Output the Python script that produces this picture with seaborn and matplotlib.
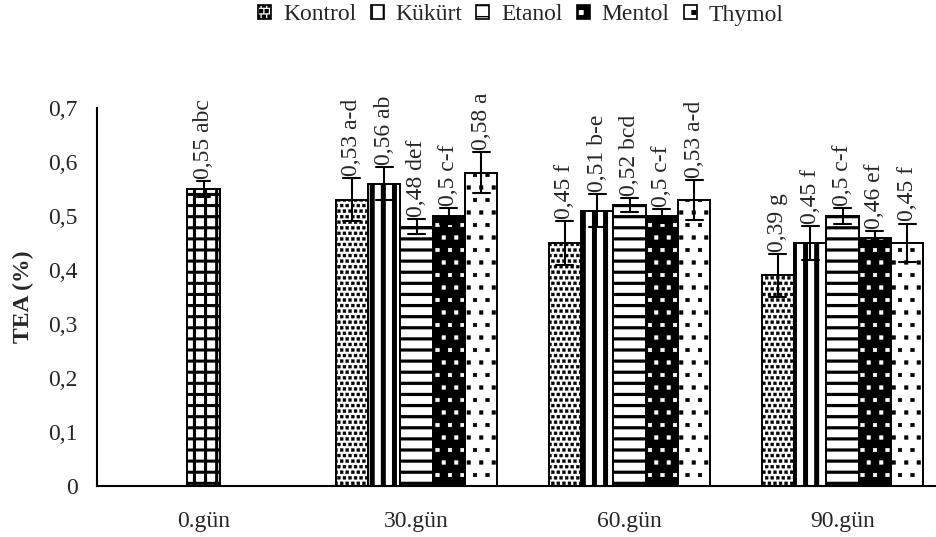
import numpy as np
import pandas as pd
import matplotlib
matplotlib.use("Agg")
import matplotlib.pyplot as plt
import matplotlib.hatch as mhatch
import matplotlib.patches as mpatches
from matplotlib.path import Path
import seaborn as sns

# ---------------- data ----------------
days = ["0.gün", "30.gün", "60.gün", "90.gün"]
treatments = ["Kontrol", "Kükürt", "Etanol", "Mentol", "Thymol"]

day0_value = [0.55]
day0_err = [0.015]
day0_label = ["0,55 abc"]

values_30 = [0.53, 0.56, 0.48, 0.50, 0.58]
err_30 = [0.040, 0.030, 0.014, 0.015, 0.038]
labels_30 = ["0,53 a-d", "0,56 ab", "0,48 def", "0,5 c-f", "0,58 a"]

values_60 = [0.45, 0.51, 0.52, 0.50, 0.53]
err_60 = [0.041, 0.030, 0.013, 0.013, 0.037]
labels_60 = ["0,45 f", "0,51 b-e", "0,52 bcd", "0,5 c-f", "0,53 a-d"]

values_90 = [0.39, 0.45, 0.50, 0.46, 0.45]
err_90 = [0.040, 0.031, 0.015, 0.012, 0.036]
labels_90 = ["0,39 g", "0,45 f", "0,5 c-f", "0,46 ef", "0,45 f"]

y_ticks = [0, 0.1, 0.2, 0.3, 0.4, 0.5, 0.6, 0.7]
y_tick_labels = ["0", "0,1", "0,2", "0,3", "0,4", "0,5", "0,6", "0,7"]
y_label = "TEA (%)"

# ---------------- custom hatch (square dots, denser pattern) ----------------
class SquareDots(mhatch.Shapes):
    filled = True

    def __init__(self, hatch, density):
        n = hatch.count('.')
        self.num_rows = 0 if n == 0 else (8 if n == 1 else 18)
        self.size = 0.14 if n <= 1 else 0.26
        self.shape_vertices = np.array([[-1, -1], [1, -1], [1, 1], [-1, 1], [-1, -1]], float)
        self.shape_codes = np.array([Path.MOVETO, Path.LINETO, Path.LINETO,
                                     Path.LINETO, Path.CLOSEPOLY], dtype=Path.code_type)
        super().__init__(hatch, density)


mhatch._hatch_types = [SquareDots if t is mhatch.SmallFilledCircles else t
                       for t in mhatch._hatch_types]
_orig_get_path = mhatch.get_path


def _get_path(hatchpattern, density=6):
    return _orig_get_path(hatchpattern, 9)


mhatch.get_path = _get_path

# ---------------- style ----------------
sns.set_style("white")
plt.rcParams['font.family'] = ['Liberation Serif', 'DejaVu Serif']
plt.rcParams['font.size'] = 17
FS = 17

df0 = pd.DataFrame({
    "gun": [days[0]] * 2,
    "val": [day0_value[0] - day0_err[0], day0_value[0] + day0_err[0]],
})
rows = []
for d, vals, errs in [(days[1], values_30, err_30), (days[2], values_60, err_60),
                      (days[3], values_90, err_90)]:
    for t, v, e in zip(treatments, vals, errs):
        rows.append((d, t, v - e))
        rows.append((d, t, v + e))
df = pd.DataFrame(rows, columns=["gun", "trt", "val"])

palette = {"Kontrol": "white", "Kükürt": "white", "Etanol": "white",
           "Mentol": "black", "Thymol": "white"}
hatches = {"Kontrol": "..", "Kükürt": "|", "Etanol": "-", "Mentol": ".", "Thymol": "."}
hatch_lw = {"Kontrol": 0.3, "Kükürt": 3.6, "Etanol": 2.3, "Mentol": 0.4, "Thymol": 0.4}

fig = plt.figure(figsize=(9.36, 5.37), dpi=100)
ax = fig.add_axes([97 / 936, 51 / 537, 852 / 936, 378 / 537])

err_kws = {"color": "black", "linewidth": 1.5}
group_width = 0.76

sns.barplot(data=df0, x="gun", y="val", order=days, width=group_width / 5,
            color="white", saturation=1, errorbar=("pi", 100), capsize=0.06,
            err_kws=err_kws, edgecolor="black", linewidth=1.4, ax=ax)
sns.barplot(data=df, x="gun", y="val", hue="trt", order=days, hue_order=treatments,
            width=group_width, palette=palette, saturation=1, errorbar=("pi", 100),
            capsize=0.4, err_kws=err_kws, edgecolor="black", linewidth=1.4,
            legend=False, ax=ax)


def style_patch(p, trt, face):
    p.set_hatch(hatches[trt])
    p.set_edgecolor("black")
    p.set_facecolor(face)
    if hasattr(p, "set_hatch_linewidth"):
        p.set_hatch_linewidth(hatch_lw[trt])
    if trt == "Mentol":
        p._hatch_color = (1, 1, 1, 1)


# day 0 bar: grid pattern
c0 = ax.containers[0]
for p in c0.patches:
    p.set_hatch("+")
    if hasattr(p, "set_hatch_linewidth"):
        p.set_hatch_linewidth(2.2)

for trt, cont in zip(treatments, ax.containers[1:]):
    for p in cont.patches:
        style_patch(p, trt, palette[trt])

# bar labels
all_labels = [day0_label] + [[labels_30[i], labels_60[i], labels_90[i]] for i in range(5)]
all_tops = [[day0_value[0] + day0_err[0]]] + [
    [values_30[i] + err_30[i], values_60[i] + err_60[i], values_90[i] + err_90[i]]
    for i in range(5)]
for cont, labs, tops in zip(ax.containers, all_labels, all_tops):
    for p, lab, top in zip(cont.patches, labs, tops):
        ax.annotate(lab, xy=(p.get_x() + p.get_width() / 2, top), xytext=(0, 1.5),
                    textcoords="offset points", rotation=90, ha="center", va="bottom",
                    fontsize=FS)

# axes styling
ax.set_xlim(-0.5, len(days) - 0.5)
ax.set_ylim(0, 0.7)
ax.set_yticks(y_ticks)
ax.set_yticklabels(y_tick_labels, fontsize=FS)
ax.set_xticks(range(len(days)))
ax.set_xticklabels(days, fontsize=FS)
ax.set_xticks(np.arange(len(days) + 1) - 0.5, minor=True)
ax.tick_params(axis="x", which="major", length=0, pad=18)
ax.tick_params(axis="x", which="minor", length=6, width=1.5, direction="out", color="black")
ax.tick_params(axis="y", which="major", length=6, width=1.5, direction="out", color="black", pad=8)
ax.set_xlabel("")
ax.set_ylabel(y_label, fontsize=FS, fontweight="bold")
ax.yaxis.set_label_coords(-0.074, 0.5)
for s in ["top", "right"]:
    ax.spines[s].set_visible(False)
for s in ["left", "bottom"]:
    ax.spines[s].set_color("black")
    ax.spines[s].set_linewidth(1.5)

# legend
handles = []
for trt in treatments:
    h = mpatches.Patch(facecolor=palette[trt], edgecolor="black", hatch=hatches[trt],
                       linewidth=1.2, label=trt)
    if hasattr(h, "set_hatch_linewidth"):
        h.set_hatch_linewidth(min(hatch_lw[trt], 2.0))
    if trt == "Mentol":
        h._hatch_color = (1, 1, 1, 1)
    handles.append(h)
fig.legend(handles=handles, loc="center", bbox_to_anchor=(521 / 936, 1 - 15 / 537),
           ncol=5, frameon=False, fontsize=FS, handlelength=0.55, handleheight=0.55,
           handletextpad=0.5, columnspacing=0.6, borderaxespad=0)

fig.savefig("out.png", dpi=100)
